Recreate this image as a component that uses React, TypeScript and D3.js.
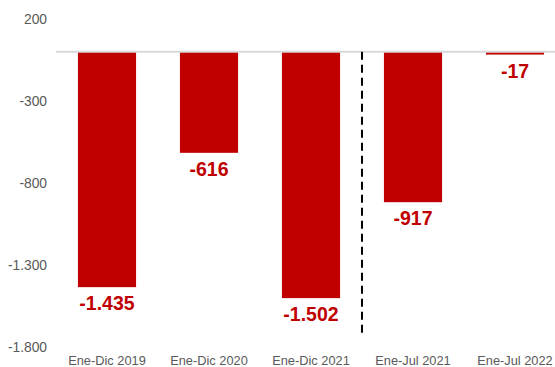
import React from "react";
import * as d3 from "d3";

const categories = ["Ene-Dic 2019", "Ene-Dic 2020", "Ene-Dic 2021", "Ene-Jul 2021", "Ene-Jul 2022"];
const values = [-1435, -616, -1502, -917, -17];
const yTicks = [200, -300, -800, -1300, -1800];

const W = 555;
const H = 367;

const locale = d3.formatLocale({ decimal: ",", thousands: ".", grouping: [3], currency: ["", "€"], minus: "-" });
const fmt = locale.format(",d");

export default function App() {
  const y = d3.scaleLinear().domain([-1800, 200]).range([347, 19]);
  const x = d3.scaleBand<string>().domain(categories).range([56, 566]).paddingInner(0.43).paddingOuter(0.215);
  const font = "'Liberation Sans', Arial, sans-serif";
  const dashX = (x(categories[2])! + x.bandwidth() + x(categories[3])!) / 2;
  return (
    <svg width={W} height={H} style={{ position: "absolute", left: 0, top: 0, background: "#fff" }} fontFamily={font}>
      {yTicks.map((t) => (
        <text key={t} x={47} y={y(t)} dy="0.35em" textAnchor="end" fontSize={13.8} fill="#595959">
          {fmt(t)}
        </text>
      ))}
      {categories.map((c, i) => {
        const v = values[i];
        const x0 = x(c)!;
        return (
          <g key={c}>
            <rect x={x0} y={y(0)} width={x.bandwidth()} height={y(v) - y(0)} fill="#c00000" />
            <text x={x0 + x.bandwidth() / 2} y={y(v) + 23} textAnchor="middle" fontSize={19.5} fontWeight="bold" fill="#c00000">
              {fmt(v)}
            </text>
            <text x={x0 + x.bandwidth() / 2} y={364.5} textAnchor="middle" fontSize={12.8} fill="#595959">
              {c}
            </text>
          </g>
        );
      })}
      <line x1={56} x2={W} y1={y(0)} y2={y(0)} stroke="#d9d9d9" strokeWidth={2} />
      <line x1={dashX} x2={dashX} y1={y(0)} y2={333} stroke="#000" strokeWidth={2} strokeDasharray="8,5" />
    </svg>
  );
}
